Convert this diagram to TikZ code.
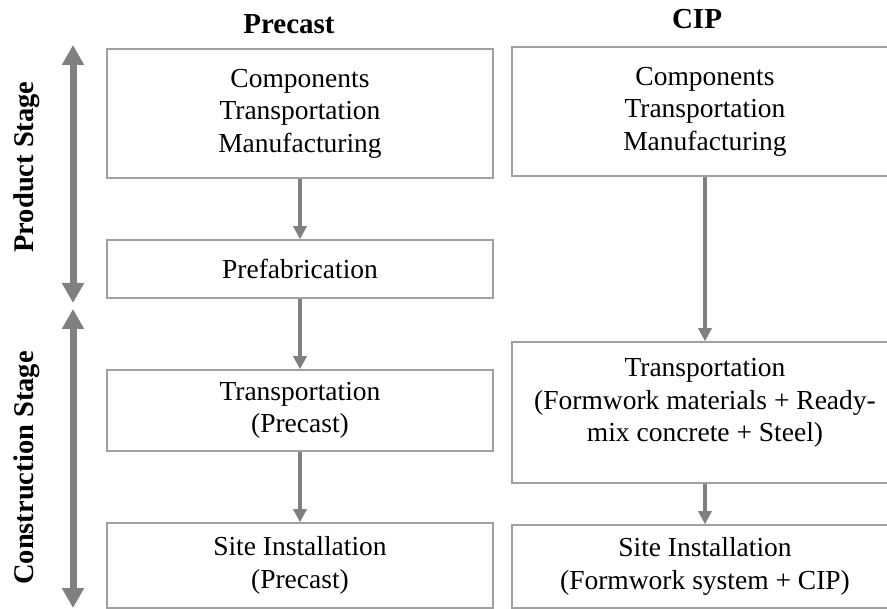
\documentclass[tikz,border=0pt]{standalone}
\usepackage{fontspec}
\setmainfont{Liberation Serif}
\usepackage{tikz}
\usetikzlibrary{arrows.meta}
\definecolor{arrowgray}{RGB}{128,128,128}
\definecolor{framegray}{RGB}{160,160,160}

\begin{document}
\begin{tikzpicture}[x=1pt, y=-1pt]

		\tikzset{
		    box/.style={draw=framegray, line width=1.5pt, minimum width=386pt, align=center,
		        inner sep=0pt, font=\fontsize{27.5}{32.5}\selectfont},
		    flow/.style={draw=arrowgray, line width=3.5pt, -{Triangle[width=13pt,length=13pt]}},
		    stagearrow/.style={draw=arrowgray, line width=7pt,
		        {Triangle[width=21pt,length=20pt]}-{Triangle[width=21pt,length=20pt]}},
		    heading/.style={font=\fontsize{29}{34}\selectfont\bfseries, anchor=base},
		    stagelabel/.style={font=\fontsize{28.5}{32}\selectfont\bfseries, anchor=base, rotate=90}
		}

		\useasboundingbox (0,0) rectangle (887,609);

		% column headings

		\node[heading] (precast) at (289,34) {Precast};
		\node[heading] (cip) at (697,29) {CIP};

		% precast column

		\node[box, minimum height=129pt] (pcomp) at (300,113.5) {Components\\Transportation\\Manufacturing};
		\node[box, minimum height=58pt] (pfab) at (300,269) {Prefabrication};
		\node[box, minimum height=81pt] (ptrans) at (300,410.5) {Transportation\\(Precast)};
		\node[box, minimum height=85pt] (psite) at (300,565.5) {Site Installation\\(Precast)};

		% cip column

		\node[box, minimum height=129pt] (ccomp) at (705,111.5) {Components\\Transportation\\Manufacturing};
		\node[box, minimum height=141pt, text depth=25pt] (ctrans) at (705,412.5) {Transportation\\(Formwork materials + Ready-\\mix concrete + Steel)};
		\node[box, minimum height=83pt] (csite) at (705,566.5) {Site Installation\\(Formwork system + CIP)};

		% flow arrows

		\draw[flow] (pcomp) -- (pfab);
		\draw[flow] (pfab) -- (ptrans);
		\draw[flow] (ptrans) -- (psite);
		\draw[flow] (ccomp) -- (ctrans);
		\draw[flow] (ctrans) -- (csite);

		% stages

		\coordinate (prodtop) at (73,45);
		\coordinate (prodbot) at (73,303);
		\coordinate (constop) at (73,309);
		\coordinate (consbot) at (73,608);

		\draw[stagearrow] (prodtop) -- (prodbot);
		\draw[stagearrow] (constop) -- (consbot);

		\node[stagelabel] (product) at (33,167) {Product Stage};
		\node[stagelabel] (construction) at (33,468) {Construction Stage};

\end{tikzpicture}
\end{document}
